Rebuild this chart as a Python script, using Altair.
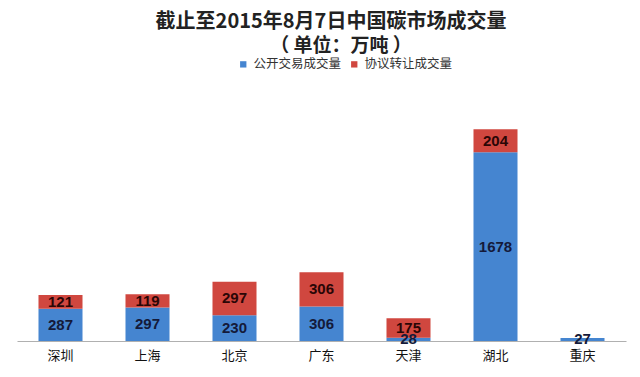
import altair as alt
import pandas as pd

cities = ["深圳", "上海", "北京", "广东", "天津", "湖北", "重庆"]
public_vol = [287, 297, 230, 306, 28, 1678, 27]
agreement_vol = [121, 119, 297, 306, 175, 204, 0]
series_names = ["公开交易成交量", "协议转让成交量"]
series_colors = ["#4585d0", "#d0473f"]
label_colors = ["#141a3a", "#2a0606"]

title_text = "截止至2015年8月7日中国碳市场成交量"
subtitle_text = "（ 单位：万吨 ）"

rows = []
for c, p, a in zip(cities, public_vol, agreement_vol):
    rows.append({"city": c, "series": series_names[0], "value": p, "ord": 0})
    rows.append({"city": c, "series": series_names[1], "value": a, "ord": 1})
df = pd.DataFrame(rows)

CJK = "Noto Sans CJK SC"

x_enc = alt.X(
    "city:N",
    sort=cities,
    title=None,
    scale=alt.Scale(paddingInner=0.494, paddingOuter=0.247),
    axis=alt.Axis(
        labelAngle=0, ticks=False, domainColor="#b0b0b0", domainWidth=1.2,
        labelFont=CJK, labelFontSize=13, labelColor="#111111", labelPadding=8,
        grid=False,
    ),
)

base = alt.Chart(df)

bars = base.mark_bar().encode(
    x=x_enc,
    y=alt.Y("value:Q", stack="zero", scale=alt.Scale(domain=[0, 2000]),
            axis=None, title=None),
    color=alt.Color(
        "series:N",
        scale=alt.Scale(domain=series_names, range=series_colors),
        sort=series_names,
        legend=alt.Legend(
            title=None, orient="none", legendX=220, legendY=-58,
            direction="horizontal", symbolType="square", symbolSize=40,
            symbolStrokeWidth=0, labelFont=CJK, labelFontSize=12.5,
            labelColor="#333333", labelOffset=4, columnPadding=6,
        ),
    ),
    order=alt.Order("ord:Q"),
)

labels = (
    base.transform_stack(
        stack="value", as_=["y0", "y1"], groupby=["city"],
        sort=[alt.SortField("ord")],
    )
    .transform_calculate(mid="(datum.y0 + datum.y1) / 2")
    .transform_filter("datum.value > 0")
    .mark_text(font="Liberation Sans", fontWeight="bold", fontSize=15,
               baseline="middle", align="center")
    .encode(
        x=alt.X("city:N", sort=cities),
        y=alt.Y("mid:Q"),
        text=alt.Text("value:Q"),
        color=alt.Color("series:N",
                        scale=alt.Scale(domain=series_names, range=label_colors),
                        legend=None),
    )
)

title_df = pd.DataFrame({"t": [title_text]})
sub_df = pd.DataFrame({"t": [subtitle_text]})

title_mark = alt.Chart(title_df).mark_text(
    font=CJK, fontWeight="bold", fontSize=20, color="#222222",
    align="center", baseline="middle",
).encode(text="t:N", x=alt.value(314), y=alt.value(-94))

sub_mark = alt.Chart(sub_df).mark_text(
    font=CJK, fontWeight="bold", fontSize=19, color="#222222",
    align="center", baseline="middle",
).encode(text="t:N", x=alt.value(324), y=alt.value(-70))

chart = (
    alt.layer(bars, labels, title_mark, sub_mark)
    .resolve_scale(color="independent")
    .properties(
        width=609, height=225,
        background="white",
        autosize=alt.AutoSizeParams(type="none"),
        padding={"left": 17, "top": 116, "right": 14, "bottom": 36},
    )
    .configure_view(strokeWidth=0, stroke="transparent")
)

chart.save("out.html", embed_options={"renderer": "svg", "actions": False})
